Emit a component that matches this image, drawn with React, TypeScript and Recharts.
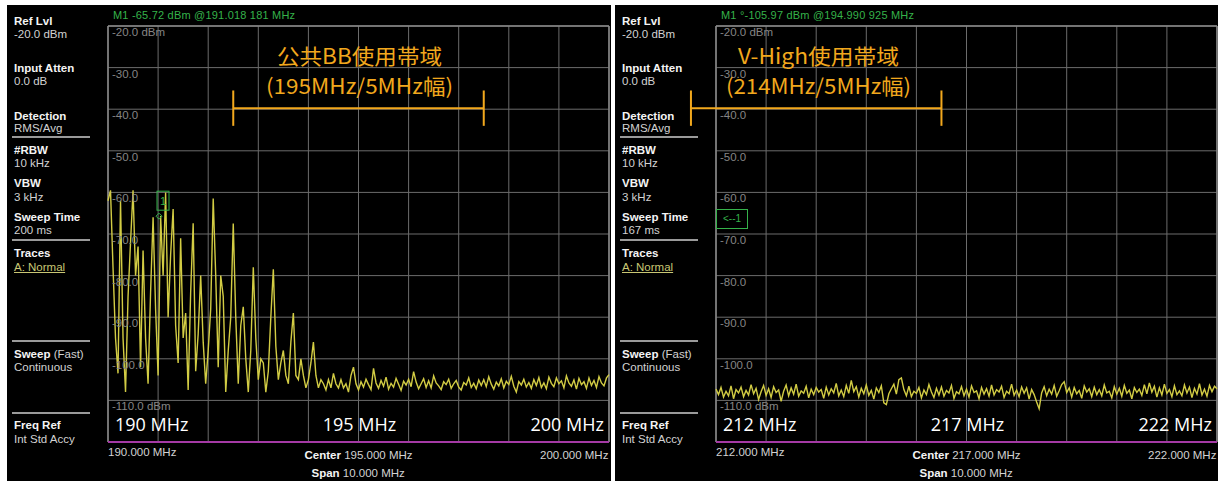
import { LineChart, Line, XAxis, YAxis, CartesianGrid, ReferenceLine, ReferenceDot } from "recharts"

// trace samples every 50 kHz
const bbStart = 190
const vhStart = 212
const step = 0.05

const bbLevels = [
  -62, -59.5, -78, -95, -103.5, -62, -95, -108, -85, -72,
  -59.5, -80, -73, -102, -74, -95, -106, -84, -66, -88,
  -104, -65.7, -80, -60, -90, -75, -64, -92, -101, -71,
  -95, -89, -107.5, -84, -67.4, -103, -94, -80, -96, -106,
  -98, -88, -61.5, -80, -102, -80, -85, -108, -98, -90,
  -67.5, -90, -106, -92, -87.5, -100, -108, -98, -78, -95,
  -105, -100, -101, -108, -103, -90, -78.5, -97, -105, -101,
  -98, -104, -106, -96, -89, -104, -105, -100, -104, -107,
  -105, -101, -96, -104, -107, -105, -106, -107.5, -105, -107,
  -103.5, -106, -107, -105, -107, -106, -108, -104, -102, -106,
  -107.5, -105.5, -106.8, -104.9, -106.2, -107.4, -102.3, -105.8, -107.1, -105.2,
  -106.6, -104.4, -107.3, -105.9, -106.8, -104.7, -106.1, -107.6, -105.4, -106.3,
  -104.9, -106.7, -103.1, -105.6, -107.2, -106.0, -104.8, -106.9, -105.3, -107.0,
  -104.1, -105.8, -106.5, -107.4, -105.5, -106.2, -104.9, -107.1, -106.0, -105.2,
  -106.8, -107.5, -105.7, -106.3, -104.6, -106.9, -105.9, -107.2, -105.1, -106.4,
  -105.0, -106.7, -104.3, -106.1, -107.3, -105.6, -106.5, -104.8, -107.0, -105.4,
  -106.2, -104.2, -106.6, -108.0, -105.5, -106.3, -104.9, -106.8, -105.7, -107.1,
  -105.0, -106.4, -104.5, -106.9, -105.8, -107.2, -104.4, -105.9, -106.7, -104.6,
  -106.0, -105.3, -107.0, -104.1, -105.8, -106.6, -105.1, -107.3, -104.7, -106.2,
  -105.5, -107.1, -104.6, -106.4, -105.2, -106.9, -104.3, -105.8, -106.5, -104.6,
  -103.8,
]

const vhLevels = [
  -107.3, -108.6, -106.9, -109.2, -107.8, -108.9, -106.5, -109.6, -107.4, -108.2,
  -106.8, -109.1, -107.6, -108.7, -106.2, -108.4, -107.1, -109.8, -107.9, -106.4,
  -108.8, -107.2, -109.3, -106.7, -108.1, -107.5, -110.2, -107.8, -106.3, -108.9,
  -107.0, -108.5, -106.1, -109.0, -107.7, -108.3, -106.6, -109.4, -107.3, -108.6,
  -106.9, -108.0, -107.4, -109.5, -106.8, -108.7, -107.2, -108.2, -105.9, -108.9,
  -107.5, -109.1, -106.4, -108.3, -105.2, -107.9, -106.7, -109.2, -107.1, -108.4,
  -106.3, -108.8, -107.6, -109.7, -107.0, -108.1, -106.5, -110.6, -111.0, -108.4,
  -107.2, -106.1, -108.5, -105.0, -104.6, -107.4, -108.9, -106.6, -109.1, -107.8,
  -108.3, -106.9, -109.4, -107.5, -108.6, -106.2, -108.0, -109.3, -107.1, -108.7,
  -106.8, -109.0, -107.6, -108.2, -106.4, -109.5, -107.9, -108.4, -106.7, -108.9,
  -107.3, -109.2, -106.5, -108.1, -107.7, -109.6, -106.9, -108.5, -107.2, -109.0,
  -106.3, -108.7, -107.4, -108.0, -106.6, -109.3, -107.8, -108.4, -106.1, -108.8,
  -107.5, -109.1, -106.8, -108.3, -107.0, -109.7, -107.4, -108.6, -110.4, -112.0,
  -108.2, -106.7, -108.9, -107.3, -108.5, -106.4, -109.0, -107.7, -106.2, -105.5,
  -108.1, -107.0, -109.2, -106.9, -108.4, -107.6, -109.5, -106.5, -108.0, -107.2,
  -109.1, -106.8, -108.6, -107.4, -108.9, -106.3, -108.2, -107.8, -109.4, -106.7,
  -108.5, -107.1, -109.0, -106.4, -108.3, -107.5, -109.6, -106.9, -108.1, -107.3,
  -108.8, -106.2, -108.4, -105.8, -108.0, -106.6, -109.2, -107.0, -108.7, -106.1,
  -108.3, -107.4, -109.1, -106.5, -108.6, -107.7, -108.9, -106.3, -108.2, -106.8,
  -109.3, -107.1, -108.5, -106.0, -108.7, -107.3, -109.0, -106.4, -107.9, -106.6,
  -107.2,
]

const dbTicks = [-120, -110, -100, -90, -80, -70, -60, -50, -40, -30, -20]
const bbFreqTicks = [190, 191, 192, 193, 194, 195, 196, 197, 198, 199, 200]
const vhFreqTicks = [212, 213, 214, 215, 216, 217, 218, 219, 220, 221, 222]
const bbLabelTicks = [190, 195, 200]
const vhLabelTicks = [212, 217, 222]

const bbData = bbLevels.map((v, i) => ({ f: +(bbStart + i * step).toFixed(3), v }))
const vhData = vhLevels.map((v, i) => ({ f: +(vhStart + i * step).toFixed(3), v }))

const PANEL_H = 476
const PLOT_L = 101
const PLOT_T = 21
const PLOT_W = 501
const PLOT_H = 416
const PLOT_B = PLOT_T + PLOT_H
const ORANGE = "#f2a81d"
const GREEN = "#35b24a"
const FONT = "'Liberation Sans', Arial, sans-serif"

const Txt = ({ x, y, children, style }: any) => (
  <div
    style={{
      position: "absolute",
      left: x,
      top: y - 7,
      lineHeight: "14px",
      whiteSpace: "nowrap",
      fontSize: 11.5,
      color: "#d2d2d2",
      ...style,
    }}
  >
    {children}
  </div>
)

const Sep = ({ y }: { y: number }) => (
  <div style={{ position: "absolute", left: 5, top: y - 1, width: 78, height: 2, background: "#9a9a9a" }} />
)

const bold = { fontWeight: 700, color: "#f4f4f4" }

const renderDbTick = (props: any) => {
  const v = props.payload.value
  if (v === -120) return <g />
  const txt = v === -20 || v === -110 ? `${v.toFixed(1)} dBm` : v.toFixed(1)
  return (
    <text x={PLOT_L + 4} y={props.y + 10} fill="#858585" fontSize={11.5} fontFamily={FONT}>
      {txt}
    </text>
  )
}

const makeFreqTick = (labels: number[]) => (props: any) => {
  const v = props.payload.value
  const idx = labels.indexOf(v)
  if (idx < 0) return <g />
  const anchor = idx === 0 ? "start" : idx === 1 ? "middle" : "end"
  const dx = idx === 0 ? 7 : idx === 1 ? 1 : -5
  return (
    <text
      x={props.x + dx}
      y={PLOT_B - 11}
      fill="#ffffff"
      fontSize={18}
      fontFamily="'Open Sans', 'Noto Sans', sans-serif"
      textAnchor={anchor}
    >
      {v} MHz
    </text>
  )
}

const MarkerShape = (props: any) => {
  const { cx, cy } = props
  return (
    <g>
      <rect x={cx - 2} y={cy - 25} width={12} height={19} fill="none" stroke={GREEN} strokeWidth={1} />
      <text x={cx + 4} y={cy - 11} fill={GREEN} fontSize={11} textAnchor="middle" fontFamily={FONT}>
        1
      </text>
      <path d={`M${cx} ${cy - 3} L${cx + 3} ${cy} L${cx} ${cy + 3} L${cx - 3} ${cy} Z`} fill="none" stroke={GREEN} strokeWidth={1} />
    </g>
  )
}

type PanelProps = {
  left: number
  width: number
  data: { f: number; v: number }[]
  freqTicks: number[]
  labelTicks: number[]
  header: string
  sweepTime: string
  title: string
  sub: string
  titleW: number
  subW: number
  bandFrom: number
  bandTo: number
  marker?: { f: number; v: number }
}

const Panel = (p: PanelProps) => {
  const lo = p.freqTicks[0]
  const hi = p.freqTicks[p.freqTicks.length - 1]
  const mid = (lo + hi) / 2
  const cx = PLOT_L + PLOT_W / 2
  return (
    <div
      style={{
        position: "absolute",
        left: p.left,
        top: 5,
        width: p.width,
        height: PANEL_H,
        background: "#000",
        overflow: "hidden",
      }}
    >
      <LineChart
        width={p.width}
        height={PANEL_H}
        data={p.data}
        margin={{ top: PLOT_T, right: p.width - PLOT_L - PLOT_W, bottom: PANEL_H - PLOT_B, left: PLOT_L }}
        style={{ position: "absolute", left: 0, top: 0 }}
      >
        <CartesianGrid stroke="#6c6c6c" strokeWidth={1} />
        <XAxis
          dataKey="f"
          type="number"
          domain={[lo, hi]}
          ticks={p.freqTicks}
          interval={0}
          mirror
          axisLine={false}
          tickLine={false}
          tick={makeFreqTick(p.labelTicks)}
        />
        <YAxis
          type="number"
          domain={[-120, -20]}
          ticks={dbTicks}
          interval={0}
          mirror
          axisLine={false}
          tickLine={false}
          tick={renderDbTick}
        />
        <ReferenceLine x={lo} stroke="#8a8a8a" strokeWidth={1.5} />
        <ReferenceLine x={hi} stroke="#8a8a8a" strokeWidth={1.5} />
        <ReferenceLine y={-20} stroke="#8a8a8a" strokeWidth={1.5} />
        <ReferenceLine y={-120} stroke="#a53aa5" strokeWidth={2} />
        <Line
          dataKey="v"
          type="linear"
          dot={false}
          stroke="#d2cc44"
          strokeWidth={1.4}
          isAnimationActive={false}
        />
        <ReferenceLine
          ifOverflow="visible"
          segment={[{ x: p.bandFrom, y: -39.8 }, { x: p.bandTo, y: -39.8 }]}
          stroke={ORANGE}
          strokeWidth={2}
        />
        <ReferenceLine
          ifOverflow="visible"
          segment={[{ x: p.bandFrom, y: -35.5 }, { x: p.bandFrom, y: -44 }]}
          stroke={ORANGE}
          strokeWidth={2}
        />
        <ReferenceLine
          ifOverflow="visible"
          segment={[{ x: p.bandTo, y: -35.5 }, { x: p.bandTo, y: -44 }]}
          stroke={ORANGE}
          strokeWidth={2}
        />
        {p.marker && (
          <ReferenceDot x={p.marker.f} y={p.marker.v} r={3} shape={MarkerShape} ifOverflow="visible" />
        )}
      </LineChart>

      <svg
        width={p.width}
        height={PANEL_H}
        style={{ position: "absolute", left: 0, top: 0, pointerEvents: "none" }}
      >
        <text
          x={cx + (p.marker ? 1 : -148)}
          y={59}
          fill={ORANGE}
          fontSize={21}
          fontFamily="'Noto Sans CJK JP', 'Noto Sans', sans-serif"
          textAnchor="middle"
          textLength={p.titleW}
          lengthAdjust="spacingAndGlyphs"
        >
          {p.title}
        </text>
        <text
          x={cx + (p.marker ? 1 : -148)}
          y={89}
          fill={ORANGE}
          fontSize={21}
          fontFamily="'Noto Sans CJK JP', 'Noto Sans', sans-serif"
          textAnchor="middle"
          textLength={p.subW}
          lengthAdjust="spacingAndGlyphs"
        >
          {p.sub}
        </text>
      </svg>

      <div style={{ position: "absolute", left: 0, top: 0, width: p.width, height: PANEL_H, fontFamily: FONT, pointerEvents: "none" }}>
        <Txt x={106} y={10} style={{ color: GREEN, letterSpacing: 0.2, fontSize: 11 }}>{p.header}</Txt>

        <Txt x={7} y={16} style={bold}>Ref Lvl</Txt>
        <Txt x={7} y={29}>-20.0 dBm</Txt>
        <Txt x={7} y={63} style={bold}>Input Atten</Txt>
        <Txt x={7} y={76}>0.0 dB</Txt>
        <Txt x={7} y={111} style={bold}>Detection</Txt>
        <Txt x={7} y={123}>RMS/Avg</Txt>
        <Sep y={132} />
        <Txt x={7} y={145} style={bold}>#RBW</Txt>
        <Txt x={7} y={158}>10 kHz</Txt>
        <Txt x={7} y={178} style={bold}>VBW</Txt>
        <Txt x={7} y={192}>3 kHz</Txt>
        <Txt x={7} y={212} style={bold}>Sweep Time</Txt>
        <Txt x={7} y={225}>{p.sweepTime}</Txt>
        <Sep y={235} />
        <Txt x={7} y={248} style={bold}>Traces</Txt>
        <Txt x={7} y={262} style={{ color: "#c9c774", textDecoration: "underline" }}>A: Normal</Txt>
        <Sep y={336} />
        <Txt x={7} y={349}>
          <span style={bold}>Sweep</span> (Fast)
        </Txt>
        <Txt x={7} y={362}>Continuous</Txt>
        <Sep y={408} />
        <Txt x={7} y={420} style={bold}>Freq Ref</Txt>
        <Txt x={7} y={434}>Int Std Accy</Txt>

        <Txt x={PLOT_L} y={447}>{lo.toFixed(3)} MHz</Txt>
        <Txt x={cx - 54} y={450}>
          <span style={bold}>Center</span> {mid.toFixed(3)} MHz
        </Txt>
        <Txt x={cx - 47} y={468}>
          <span style={bold}>Span</span> {(hi - lo).toFixed(3)} MHz
        </Txt>
        <Txt x={PLOT_L + PLOT_W - 69} y={450}>{hi.toFixed(3)} MHz</Txt>

        {!p.marker && (
          <div
            style={{
              position: "absolute",
              left: PLOT_L,
              top: 204,
              width: 30,
              height: 18,
              border: `1px solid ${GREEN}`,
              color: GREEN,
              fontSize: 10,
              lineHeight: "18px",
              textAlign: "center",
            }}
          >
            {"<--1"}
          </div>
        )}
      </div>
    </div>
  )
}

export default function App() {
  return (
    <div style={{ position: "absolute", left: 0, top: 0, width: 1218, height: 481, background: "#fff", fontFamily: FONT }}>
      <Panel
        left={7}
        width={604}
        data={bbData}
        freqTicks={bbFreqTicks}
        labelTicks={bbLabelTicks}
        header="M1 -65.72 dBm @191.018 181 MHz"
        sweepTime="200 ms"
        title="公共BB使用帯域"
        sub="(195MHz/5MHz幅)"
        titleW={165}
        subW={187}
        bandFrom={192.5}
        bandTo={197.5}
        marker={{ f: 191.018, v: -65.72 }}
      />
      <Panel
        left={615}
        width={603}
        data={vhData}
        freqTicks={vhFreqTicks}
        labelTicks={vhLabelTicks}
        header="M1 °-105.97 dBm @194.990 925 MHz"
        sweepTime="167 ms"
        title="V-High使用帯域"
        sub="(214MHz/5MHz幅)"
        titleW={161}
        subW={185}
        bandFrom={211.5}
        bandTo={216.5}
      />
    </div>
  )
}
